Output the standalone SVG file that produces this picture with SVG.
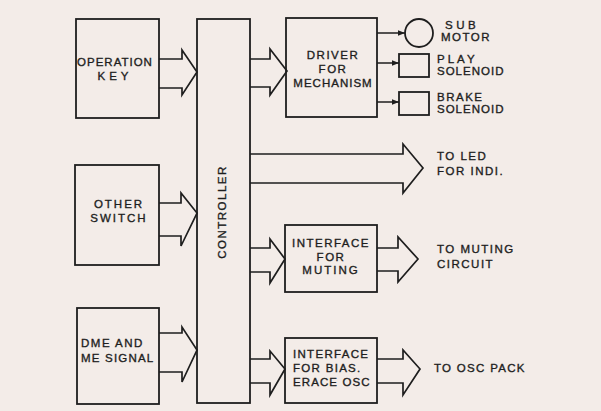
<svg xmlns="http://www.w3.org/2000/svg" width="601" height="411" viewBox="0 0 601 411">
<defs>
<style>
.box{fill:none;stroke:#1e1e1e;stroke-width:1.8}
.arr{fill:none;stroke:#1e1e1e;stroke-width:1.7;stroke-linejoin:miter}
.ln{fill:none;stroke:#1e1e1e;stroke-width:1.5}
text{font-family:"Liberation Sans",Arial,sans-serif;font-size:11.5px;fill:#1e1e1e;stroke:#1e1e1e;stroke-width:0.35px;letter-spacing:1px}
.c{text-anchor:middle}
</style>
<marker id="ah" viewBox="0 0 10 10" refX="10" refY="5" markerWidth="7" markerHeight="7" markerUnits="userSpaceOnUse" orient="auto">
<path d="M0,1 L10,5 L0,9 Z" fill="#1e1e1e"/>
</marker>
</defs>
<rect width="601" height="411" fill="#f3ece8"/>

<g id="operation-key">
<rect class="box" x="76" y="19" width="83" height="99"/>
<text class="c" x="115" y="66">OPERATION</text>
<text class="c" x="115" y="80" style="letter-spacing:4px">KEY</text>
</g>
<g id="other-switch">
<rect class="box" x="75" y="165" width="84" height="100"/>
<text class="c" x="119" y="208" style="letter-spacing:2px">OTHER</text>
<text class="c" x="119" y="222" style="letter-spacing:2px">SWITCH</text>
</g>
<g id="dme-signal">
<rect class="box" x="77" y="308" width="82" height="96"/>
<text x="81" y="347" style="letter-spacing:1.5px">DME AND</text>
<text x="81" y="362" style="letter-spacing:1.2px">ME SIGNAL</text>
</g>
<g id="controller">
<rect class="box" x="197" y="19" width="53" height="384"/>
<text class="c" transform="translate(226,212) rotate(-90)" style="letter-spacing:1.5px">CONTROLLER</text>
</g>
<g id="driver">
<rect class="box" x="286" y="18" width="91" height="99"/>
<text class="c" x="333" y="59" style="letter-spacing:1.5px">DRIVER</text>
<text class="c" x="333" y="73" style="letter-spacing:1.5px">FOR</text>
<text class="c" x="333" y="87">MECHANISM</text>
</g>
<g id="sub-motor">
<circle class="box" cx="419" cy="33" r="14"/>
<text x="445" y="29" style="letter-spacing:3.5px">SUB</text>
<text x="441" y="41" style="letter-spacing:1.5px">MOTOR</text>
</g>
<g id="play-solenoid">
<rect class="box" x="399" y="54" width="30" height="23"/>
<text x="437" y="63" style="letter-spacing:3px">PLAY</text>
<text x="437" y="75">SOLENOID</text>
</g>
<g id="brake-solenoid">
<rect class="box" x="399" y="92" width="30" height="23"/>
<text x="437" y="101" style="letter-spacing:1.5px">BRAKE</text>
<text x="437" y="113">SOLENOID</text>
</g>
<g id="interface-muting">
<rect class="box" x="285" y="225" width="92" height="67"/>
<text class="c" x="331" y="247" style="letter-spacing:1.5px">INTERFACE</text>
<text class="c" x="331" y="261" style="letter-spacing:1.5px">FOR</text>
<text class="c" x="331" y="274" style="letter-spacing:2px">MUTING</text>
</g>
<g id="interface-bias">
<rect class="box" x="285" y="338" width="92" height="65"/>
<text x="293" y="358" style="letter-spacing:1.3px">INTERFACE</text>
<text x="293" y="372" style="letter-spacing:1.3px">FOR BIAS.</text>
<text x="293" y="386" style="letter-spacing:1.1px">ERACE OSC</text>
</g>
<g id="outputs">
<text x="437" y="160" style="letter-spacing:1.5px">TO LED</text>
<text x="437" y="175" style="letter-spacing:1.5px">FOR INDI.</text>
<text x="437" y="253" style="letter-spacing:1.5px">TO MUTING</text>
<text x="437" y="268" style="letter-spacing:1.5px">CIRCUIT</text>
<text x="434" y="372" style="letter-spacing:1.3px">TO OSC PACK</text>
</g>

<g id="connectors">
<path class="arr" d="M159,59 H182 V50 L197,72 L182,95 V88 H159"/>
<path class="arr" d="M159,203 H181 V193 L197,213 L181,246 V236 H159"/>
<path class="arr" d="M159,333 H182 V327 L197,350 L182,382 V372 H159"/>
<path class="arr" d="M250,59 H270 V49 L287,71 L270,95 V87 H250"/>
<path class="arr" d="M250,154 H403 V144 L423,168 L403,193 V183 H250"/>
<path class="arr" d="M250,248 H270 V239 L285,259 L270,283 V272 H250"/>
<path class="arr" d="M377,248 H398 V237 L418,259 L398,282 V271 H377"/>
<path class="arr" d="M250,359 H270 V351 L285,369 L270,395 V383 H250"/>
<path class="arr" d="M377,359 H403 V350 L420,369 L403,395 V383 H377"/>
<line class="ln" x1="377" y1="33" x2="405" y2="33" marker-end="url(#ah)"/>
<line class="ln" x1="377" y1="63" x2="399" y2="63" marker-end="url(#ah)"/>
<line class="ln" x1="377" y1="102" x2="399" y2="102" marker-end="url(#ah)"/>
</g>
</svg>
